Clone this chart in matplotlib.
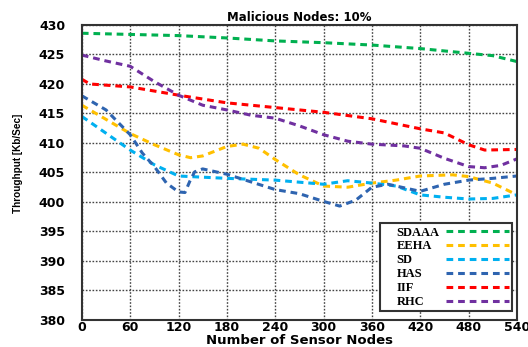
import matplotlib.pyplot as plt

# dados
nodes_sdaaa = [0, 60, 120, 180, 240, 300, 360, 420, 480, 510, 540]
sdaaa = [428.6, 428.4, 428.2, 427.8, 427.3, 427.0, 426.6, 426.0, 425.2, 424.8, 423.8]

nodes_eeha = [0, 60, 90, 120, 135, 150, 180, 200, 220, 240, 270, 300, 330, 360, 390, 420, 460, 480, 510, 540]
eeha = [416.4, 411.6, 409.7, 408.0, 407.5, 407.8, 409.4, 409.8, 409.1, 407.2, 404.6, 402.7, 402.5, 403.2, 403.7, 404.4, 404.6, 404.3, 403.2, 401.2]

nodes_sd = [0, 60, 90, 120, 150, 180, 240, 300, 330, 360, 390, 420, 450, 480, 510, 540]
sd = [414.5, 408.8, 406.3, 404.4, 404.2, 404.0, 403.7, 403.0, 403.6, 403.2, 402.7, 401.2, 400.8, 400.5, 400.6, 401.2]

nodes_has = [0, 30, 60, 75, 90, 105, 120, 128, 134, 140, 150, 180, 240, 270, 300, 320, 340, 360, 380, 420, 450, 480, 510, 540]
has = [418.0, 415.6, 411.4, 408.3, 406.0, 403.2, 401.7, 401.6, 403.5, 405.1, 405.6, 404.7, 402.1, 401.4, 400.1, 399.3, 400.3, 402.5, 403.0, 401.8, 403.0, 403.7, 404.0, 404.4]

nodes_iif = [0, 10, 60, 120, 180, 240, 300, 360, 420, 450, 480, 500, 540]
iif = [420.8, 420.0, 419.5, 418.1, 416.8, 416.0, 415.2, 414.1, 412.4, 411.7, 409.7, 408.8, 408.9]

nodes_rhc = [0, 30, 60, 90, 120, 150, 180, 210, 240, 270, 300, 330, 360, 400, 420, 450, 480, 500, 520, 540]
rhc = [424.9, 423.9, 423.0, 420.4, 418.1, 416.4, 415.6, 414.7, 414.2, 412.9, 411.4, 410.3, 409.8, 409.5, 409.1, 407.4, 406.0, 405.8, 406.2, 407.3]

xticks = [0, 60, 120, 180, 240, 300, 360, 420, 480, 540]
yticks = [380, 385, 390, 395, 400, 405, 410, 415, 420, 425, 430]

fig = plt.figure(figsize=(5.28, 3.47), dpi=100)
ax = fig.add_axes([0.155, 0.078, 0.824, 0.85])

estilo = dict(linestyle=(0, (2.2, 1.6)), linewidth=2.2)
ax.plot(nodes_sdaaa, sdaaa, color='#00b050', label='SDAAA', **estilo)
ax.plot(nodes_eeha, eeha, color='#ffc000', label='EEHA', **estilo)
ax.plot(nodes_sd, sd, color='#00b0f0', label='SD', **estilo)
ax.plot(nodes_has, has, color='#2e64b0', label='HAS', **estilo)
ax.plot(nodes_iif, iif, color='#ff0000', label='IIF', **estilo)
ax.plot(nodes_rhc, rhc, color='#7030a0', label='RHC', **estilo)

ax.set_xlim(0, 540)
ax.set_ylim(380, 430)
ax.set_xticks(xticks)
ax.set_yticks(yticks)
ax.tick_params(axis='x', length=0, labelsize=9, pad=0.5)
ax.tick_params(axis='y', length=0, labelsize=9, pad=12)
for t in ax.get_xticklabels() + ax.get_yticklabels():
    t.set_fontweight('bold')
    t.set_family('DejaVu Sans')

ax.grid(True, color='#444444', linestyle=(0, (1.2, 1.2)), linewidth=1.0)
for s in ax.spines.values():
    s.set_linewidth(1.5)
    s.set_color('#333333')

ax.set_title('Malicious Nodes: 10%', fontsize=8.5, fontweight='bold', family='DejaVu Sans', pad=3)
ax.set_xlabel('Number of Sensor Nodes', fontsize=9.5, fontweight='bold', family='DejaVu Sans', labelpad=0)
ax.set_ylabel('Throughput [Kb/Sec]', fontsize=7.2, fontweight='bold', family='Liberation Sans', labelpad=14)
ax.yaxis.set_label_coords(-0.135, 0.53)

leg = ax.legend(loc='lower right', bbox_to_anchor=(0.9885, 0.03), borderaxespad=0,
                markerfirst=False, handlelength=5.0, labelspacing=0.15, handletextpad=1.0,
                borderpad=0.25, fancybox=False, framealpha=1, edgecolor='#333333',
                prop={'family': 'Liberation Serif', 'weight': 'bold', 'size': 9})
leg.get_frame().set_linewidth(1.5)

# texto alinhado a esquerda (com recuo), linha a direita
for col in leg._legend_handle_box.get_children():
    for row in col.get_children():
        row.mode = 'expand'
        row.width = 126
for t in leg.get_texts():
    t.set_x(14)

plt.savefig('out.png', dpi=100)
